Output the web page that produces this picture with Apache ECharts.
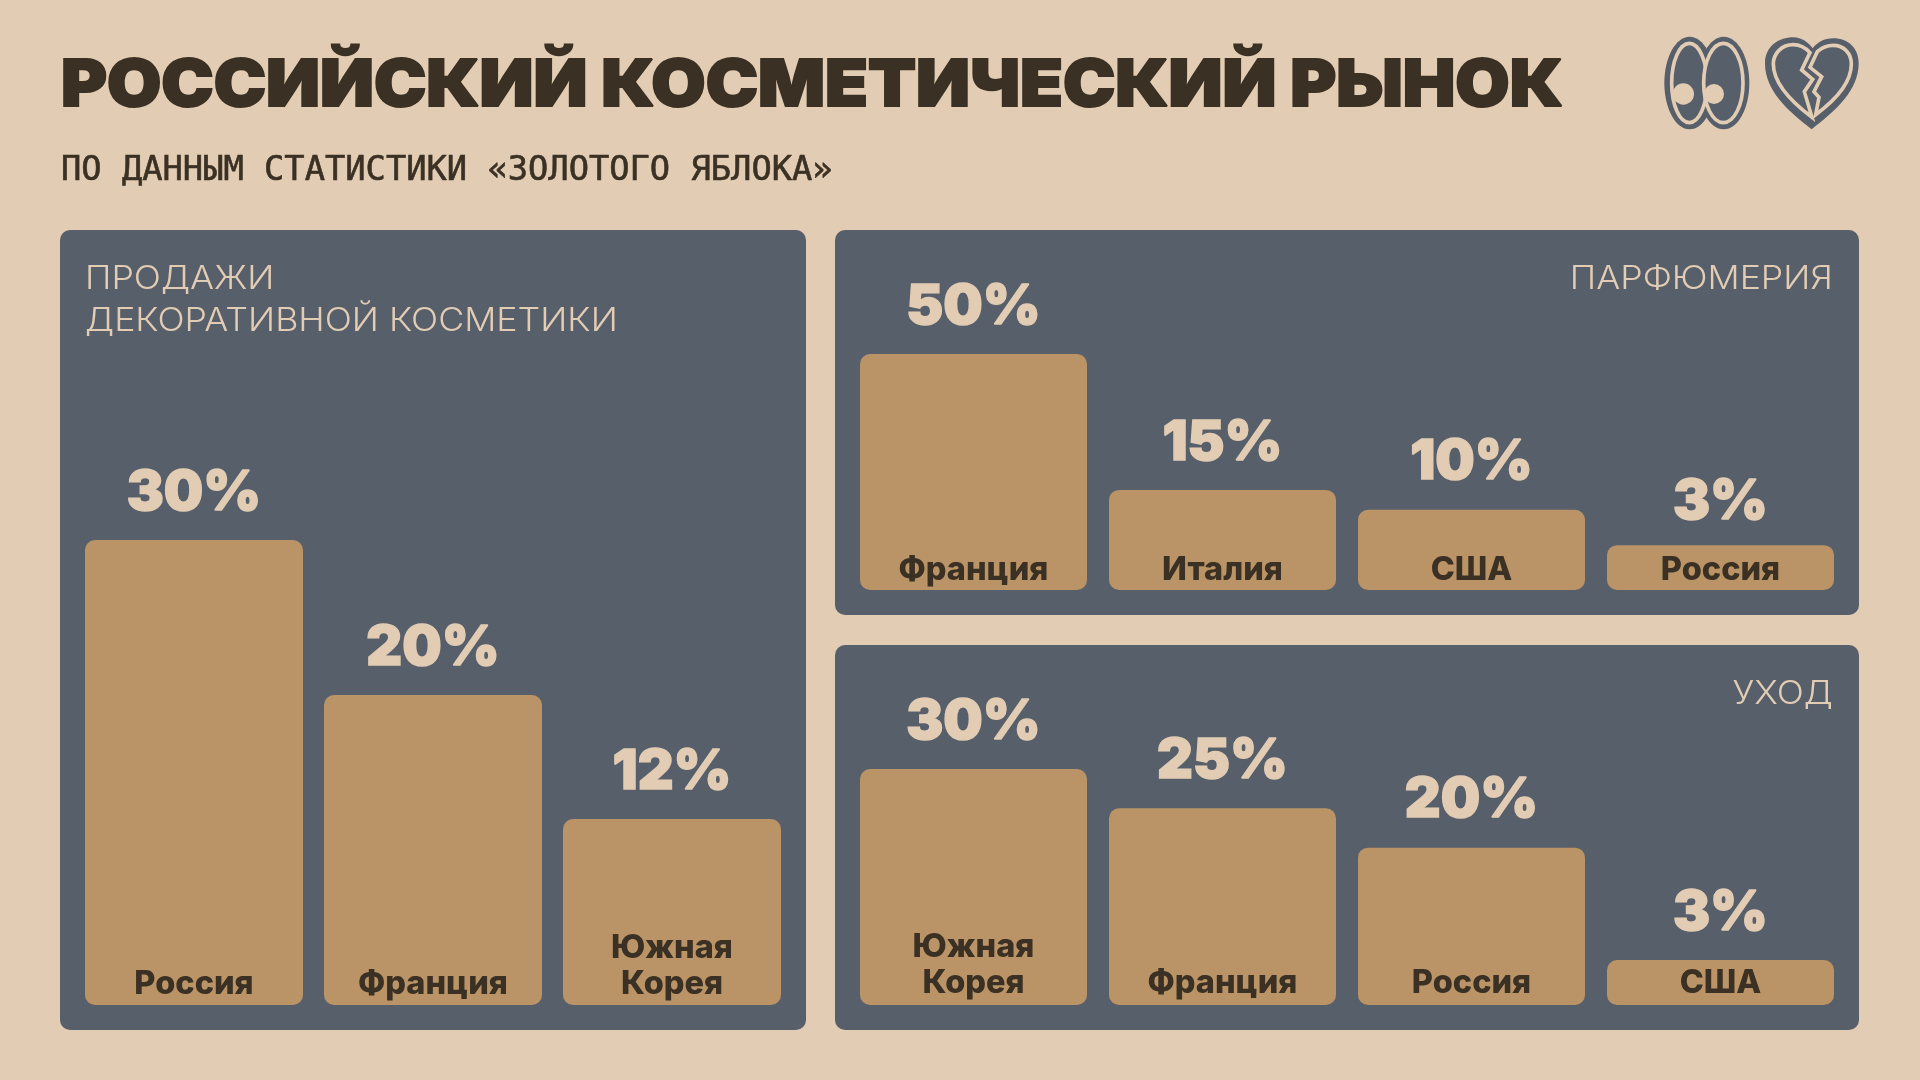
<!DOCTYPE html>
<html><head><meta charset="utf-8">
<style>html,body{margin:0;padding:0;background:#E2CCB3}#c{width:1920px;height:1080px}</style>
<script src="https://cdn.jsdelivr.net/npm/echarts@6/dist/echarts.min.js"></script>
</head><body><div id="c"></div>
<script>
const mainTitle = 'РОССИЙСКИЙ КОСМЕТИЧЕСКИЙ РЫНОК';
const subTitle = 'ПО ДАННЫМ СТАТИСТИКИ «ЗОЛОТОГО ЯБЛОКА»';
const makeupTitle = ['ПРОДАЖИ', 'ДЕКОРАТИВНОЙ КОСМЕТИКИ'];
const perfumeTitle = 'ПАРФЮМЕРИЯ';
const careTitle = 'УХОД';

const makeupCategories = ['Россия', 'Франция', 'Южная\nКорея'];
const makeupShares = [30, 20, 12];
const perfumeCategories = ['Франция', 'Италия', 'США', 'Россия'];
const perfumeShares = [50, 15, 10, 3];
// The reference does not draw the perfume bars to scale: these are the bar
// lengths, on the axis where the 50% bar is 50 long.
const perfumeBarLengths = [50, 21.2, 17, 9.5];
const careCategories = ['Южная\nКорея', 'Франция', 'Россия', 'США'];
const careShares = [30, 25, 20, 3];

const BG = '#E2CCB3', PANEL = '#575F6B', BAR = '#BA9466', INK = '#3A3023';
const HEAVY = 'Inter', LIGHT = 'Inter';

echarts.graphic.registerShape('heartOuter', echarts.graphic.extendPath(
  'M575 358C500 300 435 240 435 160C435 110 475 82 520 82C545 82 565 97 578 115C592 97 612 85 640 85C685 85 716 115 716 160C716 240 650 300 575 358Z'));
echarts.graphic.registerShape('heartLeft', echarts.graphic.extendPath(
  'M570 128C555 112 538 104 520 104C485 104 460 130 460 162C460 225 520 280 576 322L553 245L578 208L545 180Z'));
echarts.graphic.registerShape('heartRight', echarts.graphic.extendPath(
  'M592 125C606 112 622 106 640 106C672 106 694 130 694 162C694 222 640 275 587 314L597 262L582 245L605 200L570 172Z'));

function panel(x, y, w, h) {
  return { type: 'rect', z: 0, shape: { x, y, width: w, height: h, r: 10 }, style: { fill: PANEL } };
}
function text(str, x, y, font, fill, align, scaleX, strokeW) {
  return { type: 'text', z: 10, x, y, scaleX: scaleX || 1,
    style: { text: str, x: 0, y: 0, font, fill, align: align || 'left', lineHeight: 42,
      stroke: strokeW ? fill : null, lineWidth: strokeW || 0 } };
}
const icon = { x: 1620, y: 10, scaleX: 1 / 3, scaleY: 1 / 3, z: 10 };
const dark = { fill: PANEL };
const ring = { fill: PANEL, stroke: BG, lineWidth: 11 };
const graphics = [
  panel(60, 230, 746, 800), panel(835, 230, 1024, 385), panel(835, 645, 1024, 385),
  text(mainTitle, 61, 65, '900 65px ' + HEAVY, INK, 'left', 1.078, 2),
  text(subTitle, 61, 150, '34px "DejaVu Sans Mono"', INK, 'left', 0.992, 0.6),
  text(makeupTitle[0], 85, 258, '300 32px ' + LIGHT, BG, 'left', 1.115),
  text(makeupTitle[1], 85, 300, '300 32px ' + LIGHT, BG, 'left', 1.115),
  text(perfumeTitle, 1833, 258, '300 32px ' + LIGHT, BG, 'right', 1.115),
  text(careTitle, 1833, 673, '300 32px ' + LIGHT, BG, 'right', 1.115),
  { type: 'group', ...icon, children: [
    { type: 'ellipse', shape: { cx: 209, cy: 219, rx: 76, ry: 139 }, style: dark },
    { type: 'ellipse', shape: { cx: 311, cy: 219, rx: 77, ry: 139 }, style: dark },
    { type: 'ellipse', shape: { cx: 208, cy: 219, rx: 53, ry: 119 }, style: ring },
    { type: 'ellipse', shape: { cx: 310, cy: 219, rx: 59, ry: 119 }, style: ring },
    { type: 'circle', shape: { cx: 190, cy: 252, r: 32 }, style: { fill: BG } },
    { type: 'circle', shape: { cx: 282, cy: 252, r: 30 }, style: { fill: BG } },
    { type: 'heartOuter', shape: {}, style: dark },
    { type: 'heartLeft', shape: {}, style: ring },
    { type: 'heartRight', shape: {}, style: ring }
  ] }
];

const grids = [
  { left: 74.5, width: 717, top: 540, height: 465 },
  { left: 849, width: 996, top: 354, height: 236 },
  { left: 849, width: 996, top: 769, height: 236 }
];
const labelMargins = [3, 2, 4];
const xAxes = [makeupCategories, perfumeCategories, careCategories].map((data, i) => ({
  type: 'category', gridIndex: i, data, z: 6,
  axisLine: { show: false }, axisTick: { show: false },
  axisLabel: { inside: true, interval: 0, margin: labelMargins[i], color: INK, fontFamily: HEAVY, fontWeight: 800, fontSize: 32.5, lineHeight: 36 }
}));
const yAxes = [30, 50, 30].map((max, i) => ({ type: 'value', gridIndex: i, min: 0, max, show: false, splitLine: { show: false } }));

function pctLabel(fn) {
  return { show: true, position: 'top', distance: 19, color: BG, fontFamily: HEAVY, fontWeight: 900, fontSize: 55.5,
    textBorderColor: BG, textBorderWidth: 1.5, formatter: fn };
}
const series = [
  { type: 'bar', xAxisIndex: 0, yAxisIndex: 0, data: makeupShares, barWidth: 218,
    itemStyle: { color: BAR, borderRadius: 10 }, label: pctLabel(p => p.value + '%') },
  { type: 'bar', xAxisIndex: 1, yAxisIndex: 1, barWidth: 227,
    data: perfumeBarLengths.map((value, i) => i === 3 ? { value, label: { distance: 15 } } : value),
    itemStyle: { color: BAR, borderRadius: 10 }, label: pctLabel(p => perfumeShares[p.dataIndex] + '%') },
  { type: 'bar', xAxisIndex: 2, yAxisIndex: 2, data: careShares, barWidth: 227, barMinHeight: 45,
    itemStyle: { color: BAR, borderRadius: 10 }, label: pctLabel(p => p.value + '%') }
];

const chart = echarts.init(document.getElementById('c'));
chart.setOption({ backgroundColor: BG, animation: false, graphic: graphics, grid: grids, xAxis: xAxes, yAxis: yAxes, series });
</script></body></html>
